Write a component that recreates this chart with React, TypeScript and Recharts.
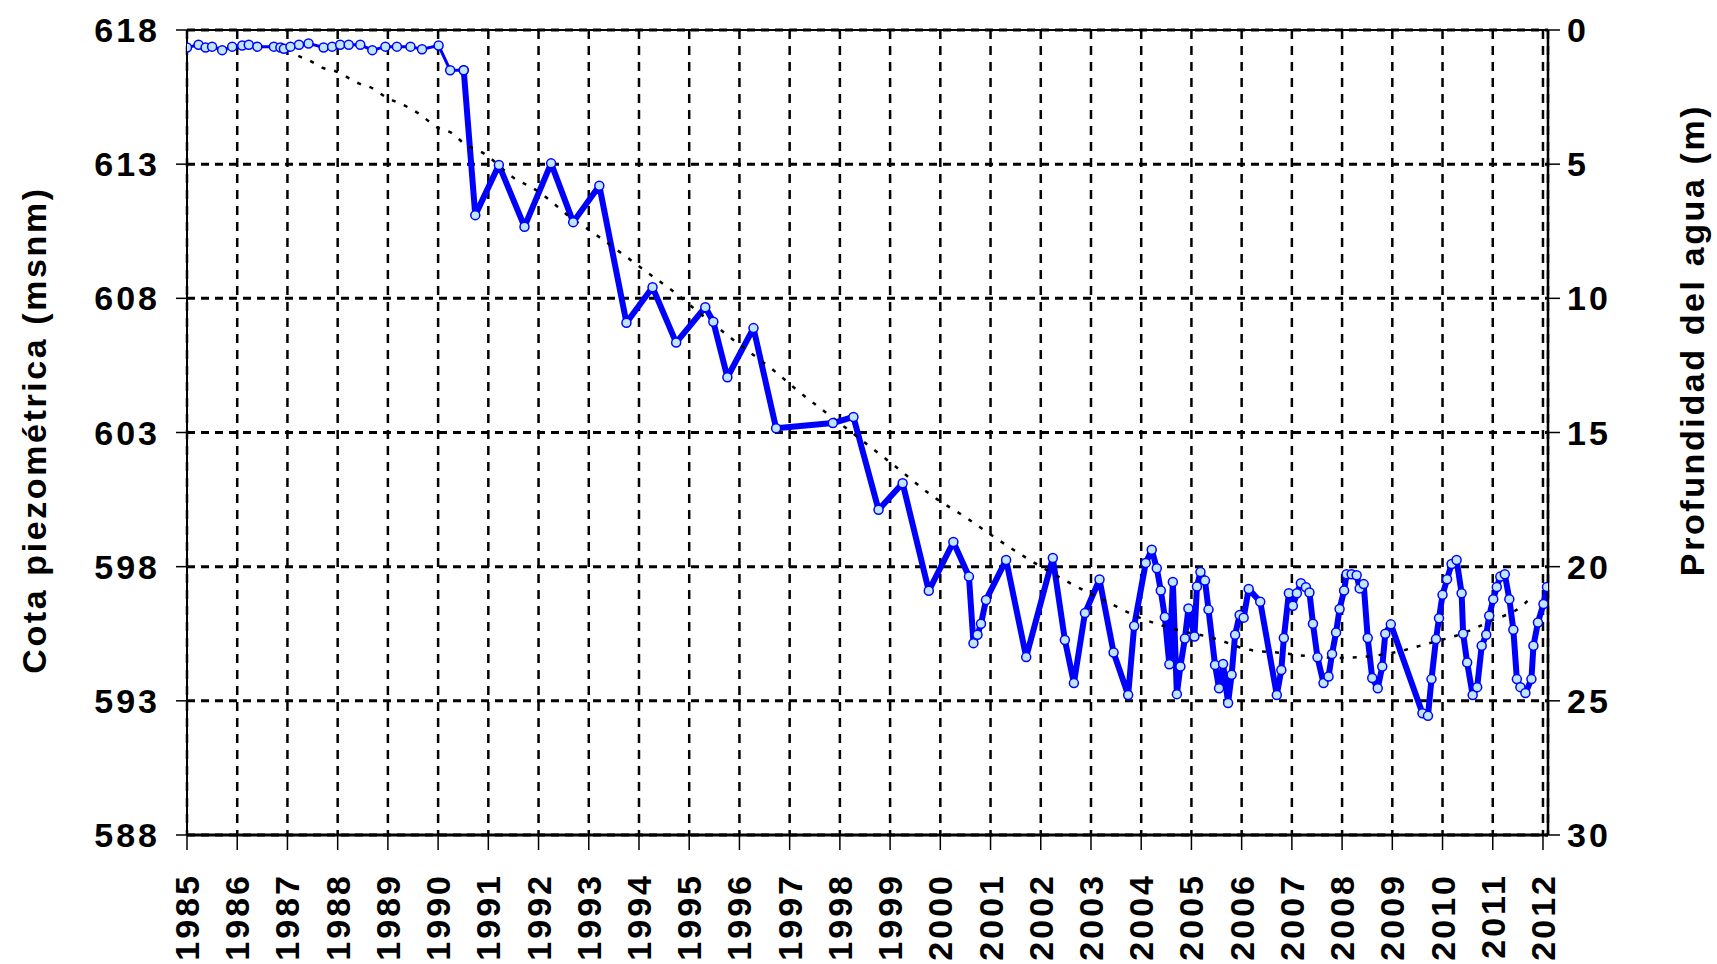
import React from 'react';
import { LineChart, Line, XAxis, YAxis, CartesianGrid, ReferenceLine } from 'recharts';

// ---------- categories / ticks ----------
const yearTicks = [1985, 1986, 1987, 1988, 1989, 1990, 1991, 1992, 1993, 1994, 1995, 1996, 1997, 1998, 1999, 2000, 2001, 2002, 2003, 2004, 2005, 2006, 2007, 2008, 2009, 2010, 2011, 2012];
const levelTicks = [588, 593, 598, 603, 608, 613, 618];
const depthTicks = [0, 5, 10, 15, 20, 25, 30];

// ---------- series: early period (thin line) ----------
const earlyTimes = [1985.0, 1985.23, 1985.37, 1985.5, 1985.7, 1985.9, 1986.1, 1986.23, 1986.4, 1986.73, 1986.86, 1986.93, 1987.06, 1987.23, 1987.42, 1987.72, 1987.89, 1988.05, 1988.22, 1988.45, 1988.69, 1988.95, 1989.18, 1989.45, 1989.68, 1990.01, 1990.24, 1990.51];
const earlyLevels = [617.35, 617.45, 617.35, 617.38, 617.25, 617.38, 617.42, 617.45, 617.38, 617.38, 617.35, 617.3, 617.38, 617.45, 617.5, 617.35, 617.38, 617.45, 617.45, 617.45, 617.25, 617.38, 617.38, 617.38, 617.28, 617.42, 616.5, 616.5];

// ---------- series: later period (thick line) ----------
const lateTimes = [1990.51, 1990.74, 1991.21, 1991.72, 1992.25, 1992.69, 1993.21, 1993.75, 1994.27, 1994.74, 1995.32, 1995.48, 1995.76, 1996.28, 1996.73, 1997.86, 1998.27, 1998.77, 1999.25, 1999.77, 2000.26, 2000.57, 2000.66, 2000.74, 2000.81, 2000.91, 2001.31, 2001.71, 2002.24, 2002.48, 2002.66, 2002.88, 2003.17, 2003.45, 2003.74, 2003.86, 2004.09, 2004.21, 2004.31, 2004.39, 2004.47, 2004.56, 2004.63, 2004.71, 2004.78, 2004.87, 2004.94, 2005.06, 2005.11, 2005.18, 2005.27, 2005.34, 2005.47, 2005.55, 2005.63, 2005.73, 2005.80, 2005.87, 2005.96, 2006.04, 2006.14, 2006.37, 2006.70, 2006.79, 2006.84, 2006.94, 2007.02, 2007.10, 2007.18, 2007.28, 2007.35, 2007.42, 2007.51, 2007.63, 2007.73, 2007.80, 2007.88, 2007.95, 2008.04, 2008.09, 2008.19, 2008.29, 2008.35, 2008.43, 2008.51, 2008.60, 2008.71, 2008.80, 2008.86, 2008.97, 2009.60, 2009.71, 2009.78, 2009.87, 2009.93, 2010.00, 2010.09, 2010.18, 2010.28, 2010.38, 2010.41, 2010.49, 2010.60, 2010.69, 2010.78, 2010.87, 2010.93, 2011.01, 2011.08, 2011.15, 2011.24, 2011.33, 2011.41, 2011.48, 2011.55, 2011.65, 2011.77, 2011.81, 2011.90, 2012.01, 2012.08];
const lateLevels = [616.5, 611.1, 612.97, 610.67, 613.03, 610.84, 612.2, 607.09, 608.41, 606.35, 607.67, 607.13, 605.06, 606.89, 603.16, 603.35, 603.58, 600.12, 601.11, 597.1, 598.92, 597.63, 595.15, 595.46, 595.87, 596.76, 598.25, 594.63, 598.32, 595.27, 593.66, 596.27, 597.52, 594.8, 593.22, 595.79, 598.14, 598.63, 597.94, 597.11, 596.12, 594.36, 597.43, 593.25, 594.28, 595.32, 596.44, 595.4, 597.26, 597.8, 597.48, 596.4, 594.34, 593.47, 594.37, 592.92, 593.97, 595.46, 596.2, 596.1, 597.17, 596.69, 593.22, 594.15, 595.34, 597.01, 596.54, 597.01, 597.38, 597.23, 597.04, 595.87, 594.62, 593.66, 593.91, 594.75, 595.55, 596.42, 597.11, 597.72, 597.72, 597.68, 597.19, 597.35, 595.34, 593.85, 593.47, 594.28, 595.5, 595.85, 592.54, 592.44, 593.81, 595.3, 596.08, 596.95, 597.53, 598.1, 598.25, 597.01, 595.5, 594.43, 593.22, 593.51, 595.05, 595.46, 596.17, 596.79, 597.24, 597.63, 597.72, 596.79, 595.65, 593.81, 593.51, 593.29, 593.81, 595.05, 595.92, 596.61, 597.24];

// ---------- series: trend (dotted) ----------
const trendTimes = [1987.0, 1987.16, 1987.46, 1987.69, 1987.96, 1988.42, 1988.69, 1988.95, 1989.38, 1989.61, 1990.01, 1990.28, 1990.51, 1990.91, 1991.57, 1991.84, 1992.3, 1992.53, 1993.06, 1993.79, 1994.19, 1994.69, 1995.09, 1995.88, 1996.75, 1997.14, 1997.74, 1998.34, 1999.07, 1999.86, 2000.53, 2001.06, 2001.65, 2002.65, 2003.31, 2003.98, 2004.71, 2005.43, 2006.16, 2006.7, 2007.36, 2007.95, 2008.49, 2009.15, 2009.64, 2010.41, 2010.94, 2011.61, 2011.81];
const trendLevels = [617.3, 617.09, 616.84, 616.6, 616.46, 616.01, 615.83, 615.51, 615.14, 614.89, 614.34, 614.15, 613.78, 613.4, 612.41, 612.16, 611.54, 611.17, 610.48, 609.49, 608.93, 608.25, 607.63, 606.45, 605.21, 604.59, 603.72, 602.85, 601.79, 600.61, 599.81, 599.12, 598.4, 597.32, 596.7, 596.09, 595.65, 595.34, 594.9, 594.8, 594.66, 594.6, 594.65, 594.85, 595.1, 595.52, 595.96, 596.58, 596.95];

const zip = (ts: number[], vs: number[]) => ts.map((t, i) => ({ t, v: vs[i] }));
const earlyData = zip(earlyTimes, earlyLevels);
const lateData = zip(lateTimes, lateLevels);
const trendData = zip(trendTimes, trendLevels);

const FONT = '"Liberation Sans", Arial, sans-serif';

const XTick = (props: any) => {
  const { x, y, payload } = props;
  return (
    <text
      x={x}
      y={y}
      transform={`rotate(-90, ${x}, ${y})`}
      textAnchor="end"
      dominantBaseline="central"
      fontFamily={FONT}
      fontSize={34}
      fontWeight="bold"
      letterSpacing={3}
      fill="#000"
    >
      {payload.value}
    </text>
  );
};

const dotStyle = { r: 4.5, fill: '#bfe6ff', stroke: '#0000ff', strokeWidth: 1.5 };

export default function App() {
  return (
    <div style={{ position: 'absolute', left: 0, top: 0, width: 1717, height: 964, overflow: 'hidden', background: '#fff' }}>
      <LineChart width={1717} height={964} margin={{ top: 30, right: 0, bottom: 0, left: 0 }}>
        <CartesianGrid yAxisId="left" horizontal={true} vertical={false} stroke="#000" strokeWidth={3} strokeDasharray="8 6" />
        <CartesianGrid yAxisId="left" horizontal={false} vertical={true} stroke="#000" strokeWidth={2.5} strokeDasharray="9 7" />
        <XAxis
          dataKey="t"
          type="number"
          domain={[1985, 2012.1]}
          ticks={yearTicks}
          interval={0}
          allowDataOverflow
          height={129}
          tickSize={15}
          tickMargin={23}
          tick={<XTick />}
          axisLine={{ stroke: '#000', strokeWidth: 3 }}
          tickLine={{ stroke: '#000', strokeWidth: 1.5 }}
        />
        <YAxis
          yAxisId="left"
          type="number"
          domain={[588, 618]}
          ticks={levelTicks}
          interval={0}
          allowDataOverflow
          width={187}
          tickSize={11}
          tickMargin={16}
          tick={{ fontFamily: FONT, fontSize: 34, fontWeight: 'bold', fill: '#000', letterSpacing: 3 }}
          axisLine={{ stroke: '#000', strokeWidth: 2 }}
          tickLine={{ stroke: '#000', strokeWidth: 1.5 }}
        />
        <YAxis
          yAxisId="right"
          orientation="right"
          type="number"
          domain={[0, 30]}
          reversed
          ticks={depthTicks}
          interval={0}
          allowDataOverflow
          width={169}
          tickSize={12}
          tickMargin={7}
          tick={{ fontFamily: FONT, fontSize: 34, fontWeight: 'bold', fill: '#000', letterSpacing: 3, textAnchor: 'start' }}
          axisLine={{ stroke: '#000', strokeWidth: 2.5 }}
          tickLine={{ stroke: '#000', strokeWidth: 1.5 }}
        />
        <ReferenceLine yAxisId="left" y={618} stroke="#000" strokeWidth={2} />
        <Line
          yAxisId="left"
          data={earlyData}
          dataKey="v"
          stroke="#0000ff"
          strokeWidth={3}
          dot={dotStyle}
          activeDot={false}
          isAnimationActive={false}
        />
        <Line
          yAxisId="left"
          data={lateData}
          dataKey="v"
          stroke="#0000ff"
          strokeWidth={6}
          strokeLinejoin="round"
          dot={dotStyle}
          activeDot={false}
          isAnimationActive={false}
        />
        <Line
          yAxisId="left"
          data={trendData}
          dataKey="v"
          stroke="#000"
          strokeWidth={2.5}
          strokeDasharray="4 9"
          dot={false}
          activeDot={false}
          type="monotone"
          isAnimationActive={false}
        />
      </LineChart>
      <div
        style={{
          position: 'absolute', left: 34, top: 430, transform: 'translate(-50%, -50%) rotate(-90deg)',
          whiteSpace: 'nowrap', fontFamily: FONT, fontWeight: 'bold', fontSize: 34, letterSpacing: 2.6, color: '#000', lineHeight: 1,
        }}
      >
        Cota piezométrica (msnm)
      </div>
      <div
        style={{
          position: 'absolute', left: 1692, top: 340, transform: 'translate(-50%, -50%) rotate(-90deg)',
          whiteSpace: 'nowrap', fontFamily: FONT, fontWeight: 'bold', fontSize: 34, letterSpacing: 2.6, color: '#000', lineHeight: 1,
        }}
      >
        Profundidad del agua (m)
      </div>
    </div>
  );
}
